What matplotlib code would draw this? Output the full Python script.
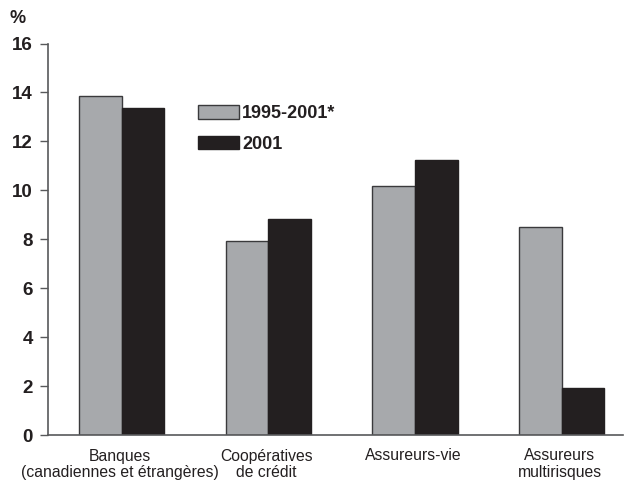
import matplotlib
matplotlib.use("Agg")
import matplotlib.pyplot as plt
import numpy as np
from matplotlib.transforms import blended_transform_factory

plt.rcParams['font.family'] = ['Liberation Sans', 'DejaVu Sans']

# données
categories = ["Banques\n(canadiennes et étrangères)", "Coopératives\nde crédit",
              "Assureurs-vie", "Assureurs\nmultirisques"]
series_names = ["1995-2001*", "2001"]
val_1995_2001 = [13.85, 7.92, 10.17, 8.51]
val_2001 = [13.37, 8.84, 11.23, 1.91]
yticks = [0, 2, 4, 6, 8, 10, 12, 14, 16]

GRAY = "#a7a9ac"
BLACK = "#231f20"
EDGE = "#3a3a3c"
AXIS = "#58595b"

fig = plt.figure(figsize=(6.29, 4.8), dpi=100)
ax = fig.add_axes([48 / 629, 45 / 480, 575 / 629, 391.5 / 480])

x = np.arange(len(categories))
w = 0.29
ax.bar(x - w / 2, val_1995_2001, w, color=GRAY, edgecolor=EDGE, linewidth=1.0,
       label=series_names[0])
ax.bar(x + w / 2, val_2001, w, color=BLACK, edgecolor=BLACK, linewidth=1.0,
       label=series_names[1])

ax.set_xlim(-0.5025, 3.418)
ax.set_ylim(0, 16)
ax.set_yticks(yticks)
ax.set_yticklabels([str(t) for t in yticks], fontsize=13.5, fontweight='bold',
                   color=BLACK)
ax.tick_params(axis='y', length=5.8, width=1.0, pad=5, color=AXIS)
ax.set_xticks([])

for s in ['top', 'right']:
    ax.spines[s].set_visible(False)
for s in ['left', 'bottom']:
    ax.spines[s].set_color(AXIS)
    ax.spines[s].set_linewidth(1.2)

# étiquettes des catégories (deux lignes)
tr = blended_transform_factory(ax.transData, fig.transFigure)
for i, lab in enumerate(categories):
    lines = lab.split("\n")
    for j, ln in enumerate(lines):
        ax.text(i - 0.015, (480 - 460.5 - j * 16.5) / 480, ln, transform=tr,
                ha='center', va='baseline', fontsize=11.3, color=BLACK)

fig.text(10 / 629, (480 - 23) / 480, "%", fontsize=13, fontweight='bold',
         color=BLACK, ha='left', va='baseline')

leg = ax.legend(loc='upper left', bbox_to_anchor=(198 / 629, (480 - 105) / 480),
                bbox_transform=fig.transFigure, frameon=False,
                prop={'size': 13, 'weight': 'bold'},
                handlelength=2.25, handleheight=0.78, handletextpad=0.2,
                labelspacing=0.76, borderpad=0, borderaxespad=0)
for t in leg.get_texts():
    t.set_color(BLACK)

fig.savefig("out.png", dpi=100)
